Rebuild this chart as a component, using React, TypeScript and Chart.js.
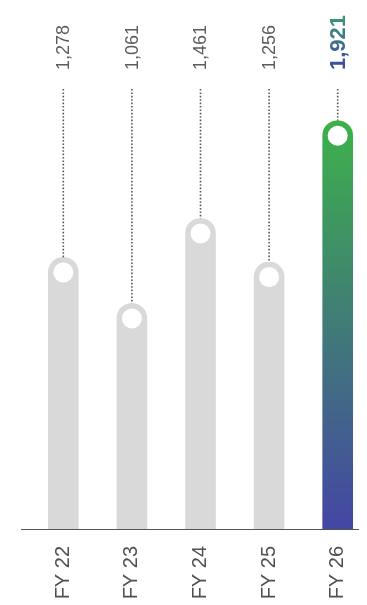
import React, { useEffect, useRef } from "react";
import { Chart, registerables } from "chart.js";

Chart.register(...registerables);

const categories = ["FY 22", "FY 23", "FY 24", "FY 25", "FY 26"];
const values = [1278, 1061, 1461, 1256, 1921];
const valueLabels = ["1,278", "1,061", "1,461", "1,256", "1,921"];
const highlightIndex = 4;
const yMax = 2000;

const FONT = "'Liberation Sans', Arial, Helvetica, sans-serif";

const overlayPlugin = {
  id: "overlay",
  afterDatasetsDraw(chart: any) {
    const ctx = chart.ctx as CanvasRenderingContext2D;
    const meta = chart.getDatasetMeta(0);
    const area = chart.chartArea;
    // baseline
    ctx.save();
    ctx.strokeStyle = "#555555";
    ctx.lineWidth = 1;
    ctx.beginPath();
    ctx.moveTo(13, Math.round(area.bottom) + 0.5);
    ctx.lineTo(chart.width, Math.round(area.bottom) + 0.5);
    ctx.stroke();
    ctx.restore();

    meta.data.forEach((el: any, i: number) => {
      const x = el.x;
      const y = el.y;
      const hl = i === highlightIndex;
      // dotted leader
      ctx.save();
      ctx.strokeStyle = "#5a5a5a";
      ctx.lineWidth = 1.6;
      ctx.setLineDash([1.6, 1.8]);
      ctx.beginPath();
      ctx.moveTo(x, 81);
      ctx.lineTo(x, y);
      ctx.stroke();
      ctx.restore();
      // white circle
      ctx.save();
      ctx.fillStyle = "#ffffff";
      ctx.beginPath();
      ctx.arc(x, y + 15, 10, 0, Math.PI * 2);
      ctx.fill();
      ctx.restore();
      // value label
      ctx.save();
      ctx.translate(x + 1, 62);
      ctx.rotate(-Math.PI / 2);
      ctx.textAlign = "left";
      ctx.textBaseline = "middle";
      if (hl) {
        ctx.font = `bold 22px ${FONT}`;
        const w = ctx.measureText(valueLabels[i]).width;
        const g = ctx.createLinearGradient(0, 0, w, 0);
        g.addColorStop(0, "#3f45a2");
        g.addColorStop(1, "#3a9a78");
        ctx.fillStyle = g;
      } else {
        ctx.font = `18px ${FONT}`;
        ctx.fillStyle = "#5c5c5c";
      }
      ctx.fillText(valueLabels[i], 0, 0);
      ctx.restore();
    });
  },
};

export default function App() {
  const ref = useRef<HTMLCanvasElement | null>(null);

  useEffect(() => {
    if (!ref.current) return;
    const chart = new Chart(ref.current, {
      type: "bar",
      data: {
        labels: categories,
        datasets: [
          {
            data: values,
            barThickness: 30,
            borderRadius: { topLeft: 15, topRight: 15, bottomLeft: 0, bottomRight: 0 },
            borderSkipped: false,
            backgroundColor: (c: any) => {
              if (c.dataIndex !== highlightIndex) return "#d9d9da";
              const ch = c.chart;
              const area = ch.chartArea;
              if (!area) return "#3fae49";
              const top = ch.scales.y.getPixelForValue(values[highlightIndex]);
              const g = ch.ctx.createLinearGradient(0, top, 0, area.bottom);
              g.addColorStop(0, "#3db14a");
              g.addColorStop(1, "#4446a4");
              return g;
            },
          } as any,
        ],
      },
      options: {
        animation: false,
        responsive: true,
        maintainAspectRatio: false,
        layout: { padding: { top: 96, left: 21, right: 0, bottom: 0 } },
        plugins: { legend: { display: false }, tooltip: { enabled: false } },
        scales: {
          x: {
            grid: { display: false, drawTicks: false },
            border: { display: false },
            ticks: {
              autoSkip: false,
              minRotation: 90,
              maxRotation: 90,
              padding: 17,
              color: "#505050",
              font: { size: 20, family: FONT },
            },
            afterFit: (scale: any) => {
              scale.height = 76;
              scale.paddingLeft = 0;
              scale.paddingRight = 0;
            },
          },
          y: {
            display: false,
            min: 0,
            max: yMax,
          },
        },
      },
      plugins: [overlayPlugin],
    });
    return () => chart.destroy();
  }, []);

  return (
    <div style={{ width: 359, height: 597, overflow: "hidden" }}>
      <div style={{ position: "relative", width: 364, height: 597 }}>
        <canvas ref={ref} />
      </div>
    </div>
  );
}
